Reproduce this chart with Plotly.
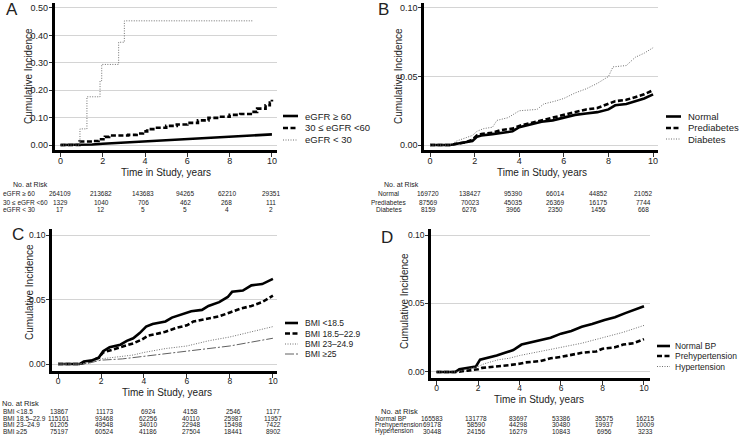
import plotly.graph_objects as go

W, H = 740, 443
FONT = "Liberation Sans, Arial, sans-serif"

# ---------------- data ----------------
# Panel A: eGFR
a_names = ["eGFR ≥ 60", "30 ≤ eGFR <60", "eGFR < 30"]
a_t1 = [0, 0.9, 1.5, 2, 3, 4, 5, 6, 7, 8, 9, 10]
a_v1 = [0, 0, 0.002, 0.005, 0.009, 0.013, 0.017, 0.022, 0.026, 0.030, 0.034, 0.039]
a_t2 = [0, 0.9, 1.5, 1.8, 2.1, 2.3, 3.2, 3.6, 3.9, 4.1, 4.5, 5.0, 5.5, 6.0, 6.5, 7.0, 7.5, 8.0, 8.5, 9.0, 9.3, 9.7, 9.9, 10.0]
a_v2 = [0, 0.013, 0.015, 0.021, 0.030, 0.035, 0.037, 0.042, 0.050, 0.058, 0.063, 0.070, 0.075, 0.081, 0.090, 0.099, 0.103, 0.110, 0.113, 0.121, 0.133, 0.145, 0.155, 0.165]
a_t3 = [0, 0.92, 1.25, 1.87, 1.95, 2.75, 3.02, 9.12]
a_v3 = [0, 0.059, 0.176, 0.235, 0.294, 0.375, 0.453, 0.453]
a_risk = [[264109, 213682, 143683, 94265, 62210, 29351],
          [1329, 1040, 706, 462, 268, 111],
          [17, 12, 5, 5, 4, 2]]

# Panel B: glycemic status
b_names = ["Normal", "Prediabetes", "Diabetes"]
b_t12 = [0, 0.9, 1.2, 1.6, 1.9, 2.1, 2.3, 2.8, 3.2, 3.7, 4.0, 4.5, 5, 5.5, 6, 6.5, 7, 7.5, 8, 8.3, 8.8, 9.2, 9.6, 10]
b_v1 = [0, 0, 0.001, 0.002, 0.003, 0.006, 0.007, 0.008, 0.009, 0.010, 0.013, 0.015, 0.017, 0.018, 0.020, 0.022, 0.023, 0.024, 0.026, 0.029, 0.030, 0.032, 0.034, 0.037]
b_v2 = [0, 0, 0.001, 0.002, 0.004, 0.007, 0.008, 0.009, 0.011, 0.012, 0.014, 0.016, 0.018, 0.020, 0.022, 0.024, 0.026, 0.027, 0.030, 0.032, 0.033, 0.035, 0.037, 0.040]
b_t3 = [0, 0.9, 1.2, 1.6, 1.9, 2.1, 2.4, 2.8, 3.0, 3.5, 4.0, 4.8, 5.1, 5.6, 6, 6.5, 7, 7.5, 8, 8.2, 8.8, 9.2, 9.6, 10]
b_v3 = [0, 0, 0.003, 0.005, 0.007, 0.010, 0.012, 0.013, 0.018, 0.020, 0.025, 0.026, 0.030, 0.032, 0.034, 0.038, 0.041, 0.045, 0.050, 0.057, 0.058, 0.064, 0.067, 0.071]
b_risk = [[169720, 138427, 95390, 66014, 44852, 21052],
          [87569, 70023, 45035, 26369, 16175, 7744],
          [8159, 6276, 3966, 2350, 1456, 668]]

# Panel C: BMI
c_names = ["BMI <18.5", "BMI 18.5–22.9", "BMI 23–24.9", "BMI ≥25"]
c_t1 = [0, 1, 1.2, 1.6, 1.9, 2.1, 2.4, 2.9, 3.2, 3.5, 3.8, 4.1, 4.4, 5, 5.3, 5.8, 6.2, 6.7, 7, 7.5, 7.9, 8.1, 8.6, 9, 9.5, 10]
c_v1 = [0, 0, 0.002, 0.003, 0.005, 0.010, 0.013, 0.015, 0.018, 0.020, 0.024, 0.029, 0.031, 0.033, 0.036, 0.039, 0.041, 0.042, 0.045, 0.048, 0.052, 0.056, 0.057, 0.061, 0.062, 0.066]
c_t2 = [0, 1, 1.5, 1.9, 2.1, 2.5, 3, 3.5, 3.9, 4.2, 4.5, 5, 5.5, 6, 6.3, 7, 7.5, 8, 8.5, 9, 9.5, 10]
c_v2 = [0, 0, 0.002, 0.005, 0.009, 0.011, 0.013, 0.016, 0.019, 0.022, 0.023, 0.025, 0.028, 0.030, 0.033, 0.035, 0.037, 0.040, 0.043, 0.045, 0.048, 0.053]
c_t3 = [0, 1, 1.5, 2, 2.5, 3, 3.5, 4, 5, 6, 7, 8, 9, 10]
c_v3 = [0, 0, 0.001, 0.004, 0.005, 0.006, 0.007, 0.009, 0.012, 0.014, 0.018, 0.021, 0.025, 0.029]
c_t4 = [0, 1, 1.5, 2, 3, 4, 5, 6, 7, 8, 9, 10]
c_v4 = [0, 0, 0.001, 0.003, 0.004, 0.006, 0.008, 0.010, 0.012, 0.014, 0.017, 0.020]
c_risk = [[13867, 11173, 6924, 4158, 2546, 1177],
          [115161, 93468, 62256, 40110, 25987, 11957],
          [61205, 49548, 34010, 22948, 15498, 7422],
          [75197, 60524, 41186, 27504, 18441, 8902]]

# Panel D: blood pressure
d_names = ["Normal BP", "Prehypertension", "Hypertension"]
d_t1 = [0, 0.9, 1.1, 1.6, 1.9, 2.1, 2.4, 2.9, 3.3, 3.7, 4.1, 4.4, 5, 5.5, 6, 6.5, 7, 7.5, 8.1, 8.6, 9.1, 9.5, 10]
d_v1 = [0, 0, 0.002, 0.003, 0.004, 0.009, 0.010, 0.012, 0.014, 0.016, 0.020, 0.021, 0.023, 0.025, 0.028, 0.030, 0.033, 0.035, 0.038, 0.040, 0.043, 0.045, 0.048]
d_t2 = [0, 1, 1.5, 2, 2.2, 3, 3.5, 4, 4.3, 5, 5.5, 6, 6.7, 7, 7.7, 8, 8.6, 9, 9.5, 10]
d_v2 = [0, 0, 0.001, 0.002, 0.003, 0.004, 0.005, 0.006, 0.007, 0.008, 0.010, 0.011, 0.013, 0.014, 0.015, 0.017, 0.018, 0.020, 0.021, 0.024]
d_t3 = [0, 1, 1.5, 2, 2.3, 3, 3.5, 4, 5, 6, 7, 8, 9, 10]
d_v3 = [0, 0, 0.002, 0.004, 0.006, 0.009, 0.010, 0.012, 0.015, 0.018, 0.021, 0.025, 0.029, 0.034]
d_risk = [[165583, 131778, 83697, 53386, 35575, 16215],
          [69178, 58590, 44298, 30480, 19937, 10009],
          [30448, 24156, 16279, 10843, 6956, 3233]]

x_ticks = [0, 2, 4, 6, 8, 10]
a_yticks = [0, 0.1, 0.2, 0.3, 0.4, 0.5]
bcd_yticks = [0, 0.05, 0.10]

# ---------------- styles ----------------
SOLID = dict(color="black", width=2.6, dash="solid")
DASH = dict(color="black", width=2.6, dash="5px,2.5px")
DOT = dict(color="#707070", width=1, dash="1px,1.5px")
DASHDOT = dict(color="#606060", width=1, dash="9px,2px,2px,2px")


def px(x):
    return x / W


def py(y):
    return 1 - y / H


fig = go.Figure()


def add(t, v, style, xa, ya, shape="linear"):
    fig.add_trace(go.Scatter(x=t, y=v, mode="lines", line=dict(**style, shape=shape),
                             xaxis=xa, yaxis=ya, showlegend=False, hoverinfo="skip"))


add(a_t1, a_v1, SOLID, "x", "y")
add(a_t2, a_v2, DASH, "x", "y", "hv")
add(a_t3, a_v3, DOT, "x", "y", "hv")

add(b_t12, b_v1, SOLID, "x2", "y2")
add(b_t12, b_v2, DASH, "x2", "y2")
add(b_t3, b_v3, DOT, "x2", "y2")

add(c_t1, c_v1, SOLID, "x3", "y3")
add(c_t2, c_v2, DASH, "x3", "y3")
add(c_t3, c_v3, DOT, "x3", "y3")
add(c_t4, c_v4, DASHDOT, "x3", "y3")

add(d_t1, d_v1, SOLID, "x4", "y4")
add(d_t2, d_v2, DASH, "x4", "y4")
add(d_t3, d_v3, DOT, "x4", "y4")

tickfont9 = dict(family=FONT, size=9, color="#222")
tickfont85 = dict(family=FONT, size=8.5, color="#222")


def xax(dom, rng, yref, tf):
    return dict(domain=dom, range=rng, anchor=yref, tickvals=x_ticks, showgrid=False,
                zeroline=False, showline=True, linecolor="black", linewidth=2.5,
                ticks="outside", ticklen=4, tickwidth=1, tickcolor="#333", tickfont=tf,
                ticklabelstandoff=-4)


def yax(dom, rng, xref, vals, tf):
    return dict(domain=dom, range=rng, anchor=xref, tickvals=vals, tickformat=".2f",
                showgrid=True, gridcolor="#d4d4d4", gridwidth=1, zeroline=False,
                showline=True, linecolor="black", linewidth=2.5,
                ticks="outside", ticklen=3, tickwidth=1, tickcolor="#333", tickfont=tf,
                ticklabelstandoff=-1)


layout = dict(
    width=W, height=H, margin=dict(l=0, r=0, t=0, b=0),
    paper_bgcolor="white", plot_bgcolor="white", showlegend=False,
    font=dict(family=FONT, color="#222"),
    xaxis=xax([px(54.5), px(277)], [-0.284, 10.24], "y", tickfont9),
    yaxis=yax([py(150), py(3)], [-0.018, 0.518], "x", a_yticks, tickfont9),
    xaxis2=xax([px(424), px(658)], [-0.27, 10.22], "y2", tickfont9),
    yaxis2=yax([py(150), py(3)], [-0.0036, 0.1036], "x2", bcd_yticks, tickfont9),
    xaxis3=xax([px(52), px(277)], [-0.28, 10.19], "y3", tickfont85),
    yaxis3=yax([py(371), py(229)], [-0.0054, 0.1047], "x3", bcd_yticks, tickfont85),
    xaxis4=xax([px(431), px(650)], [-0.265, 10.29], "y4", tickfont85),
    yaxis4=yax([py(378), py(229)], [-0.0044, 0.1044], "x4", bcd_yticks, tickfont85),
)
fig.update_layout(**layout)

ann = []
shapes = []


def text(x, y, s, size, anchor="center", angle=0, color="#222"):
    ann.append(dict(x=px(x), y=py(y), xref="paper", yref="paper", text=s, showarrow=False,
                    xanchor=anchor, yanchor="middle", textangle=angle,
                    font=dict(family=FONT, size=size, color=color)))


# panel letters
for lab, x, y in [("A", 12, 9), ("B", 383, 9), ("C", 18, 234), ("D", 387, 237)]:
    text(x, y, lab, 17)

# axis titles
for x, y in [(166, 172), (542, 172), (167, 392), (539, 399)]:
    text(x, y, "Time in Study, years", 10)
for x, y in [(28, 76), (398, 76), (29, 292), (404, 301)]:
    text(x, y, "Cumulative Incidence", 10, angle=-90)


# legends
def legend(names, styles, x0, x1, xt, ys, size):
    for n, st, y in zip(names, styles, ys):
        shapes.append(dict(type="line", xref="paper", yref="paper", x0=px(x0), x1=px(x1),
                           y0=py(y), y1=py(y), line=dict(color=st["color"], width=st["width"], dash=st["dash"])))
        text(xt, y, n, size, anchor="left")


legend(a_names, [SOLID, DASH, DOT], 283, 298, 303, [116, 128, 140], 9.5)
legend(b_names, [SOLID, DASH, DOT], 666, 681, 686, [116.5, 128, 139], 9.5)
legend(c_names, [SOLID, DASH, DOT, DASHDOT], 285, 298, 303, [323, 333.5, 344, 354], 8.5)
legend(d_names, [SOLID, DASH, DOT], 657, 670, 673, [346, 356, 366.5], 8.5)


# risk tables
def risk(title_xy, title_size, label_x, label_anchor, names, rows, cols, ys, size):
    text(title_xy[0], title_xy[1], "No. at Risk", title_size)
    for n, r, y in zip(names, rows, ys):
        text(label_x, y, n, size, anchor=label_anchor)
        for v, cx in zip(r, cols):
            text(cx, y, str(v), size)


risk((30, 184), 7, 0.5, "left", a_names, a_risk, [60, 101, 143, 185, 227, 271], [194, 202, 209], 6.5)
risk((401, 184), 7, 389, "center", b_names, b_risk, [428, 470, 513, 555, 598, 643], [194, 202, 209], 6.5)
risk((20, 403), 7.5, 1, "left", c_names, c_risk, [59, 104, 148, 191, 233, 273], [411, 418, 424.5, 431], 6.5)
risk((399, 411), 7.5, 373, "left", d_names, d_risk, [432, 476, 518, 561, 604, 645], [418, 424.5, 431], 6.5)

fig.update_layout(annotations=ann, shapes=shapes)
fig.write_html(
    "out.html",
    config={"displayModeBar": False},
    post_script="document.body.style.margin='0';document.body.style.padding='0';"
                "document.body.style.overflow='hidden';",
)
